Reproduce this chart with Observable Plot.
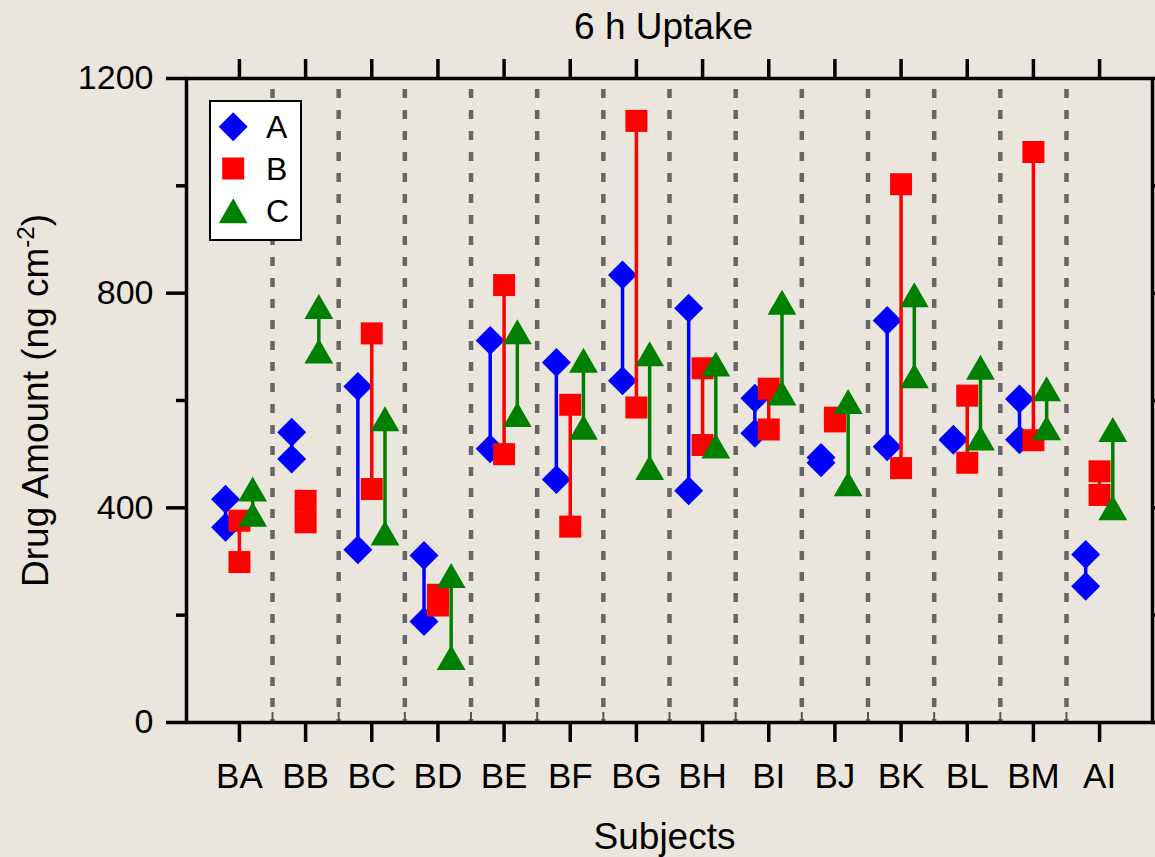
<!DOCTYPE html>
<html><head><meta charset="utf-8">
<script src="https://cdn.jsdelivr.net/npm/d3@7"></script>
<script src="https://cdn.jsdelivr.net/npm/@observablehq/plot@0.6"></script>
<style>
html,body{margin:0;padding:0;background:#ebe6dd;}
#wrap{position:relative;width:1155px;height:857px;overflow:hidden;background:#ebe6dd;}
#legend{position:absolute;left:209px;top:100px;width:93px;height:141px;box-sizing:border-box;border:2.5px solid #000;background:#fff;}
#legend svg{display:block;}
</style></head><body><div id="wrap"><div id="legend"></div></div>
<script>
const subjects = ["BA","BB","BC","BD","BE","BF","BG","BH","BI","BJ","BK","BL","BM","AI"];
const seriesNames = ["A","B","C"];
// two replicate values per subject (ng cm-2)
const seriesA = [[416,364],[541,491],[626,322],[311,188],[712,510],[671,453],[834,637],[772,432],[604,539],[494,484],[749,514],[528,526],[603,527],[313,254]];
const seriesB = [[376,299],[413,373],[725,435],[238,218],[815,500],[592,365],[1121,587],[660,517],[622,546],[568,561],[1003,474],[609,484],[1063,526],[468,424]];
const seriesC = [[435,388],[775,692],[566,353],[274,121],[728,574],[675,550],[687,475],[668,515],[783,614],[598,445],[797,646],[662,530],[622,549],[546,400]];
const yTicks = [0,400,800,1200];
const yMinorTicks = [200,600,1000];

const styles = {
  A: {color:"#0000ff", symbol:"diamond2", r:13.06, dy:0, off:-0.21},
  B: {color:"#ff0000", symbol:"square", r:12.41, dy:0, off:0},
  C: {color:"#008000", symbol:"triangle", r:10.71, dy:4.17, off:0.2}
};
const allSeries = {A: seriesA, B: seriesB, C: seriesC};

const pos = subjects.map((s,i)=>i+1);
const boundaries = pos.slice(0,-1).map(p=>p+0.5);

const seriesMarks = [];
for (const name of seriesNames) {
  const st = styles[name];
  const vals = allSeries[name];
  const ranges = vals.map((v,i)=>({x: pos[i]+st.off, lo: Math.min(...v), hi: Math.max(...v)}));
  const pts = vals.flatMap((v,i)=>v.map(val=>({x: pos[i]+st.off, y: val})));
  seriesMarks.push(
    Plot.ruleX(ranges, {x:"x", y1:"lo", y2:"hi", stroke: st.color, strokeWidth: 3.5}),
    Plot.dot(pts, {x:"x", y:"y", symbol: st.symbol, fill: st.color, r: st.r, dy: st.dy})
  );
}

const font = "'Liberation Sans', Arial, Helvetica, sans-serif";
const chart = Plot.plot({
  width: 1155, height: 857,
  marginLeft: 186, marginRight: 3, marginTop: 78, marginBottom: 135,
  style: {fontFamily: font, fontSize: "34px", color: "#000", background: "#ebe6dd", overflow: "visible"},
  x: {type: "linear", domain: [0.2, 14.8]},
  y: {domain: [0, 1200]},
  marks: [
    Plot.ruleX(boundaries, {x: d=>d, stroke:"#666666", strokeWidth: 4.5, strokeDasharray: "9,12", insetTop: 11}),
    ...seriesMarks,
    Plot.tickX(boundaries, {x: d=>d, insetTop: 634, stroke:"#555", strokeWidth: 2}),
    Plot.frame({stroke:"#000", strokeWidth: 3.5}),
    Plot.axisY({ticks: yTicks, tickSize: 20, tickPadding: 13, tickFormat: d=>String(d), label: null, strokeWidth: 3.5, fontSize: 34}),
    Plot.axisY({ticks: yMinorTicks, tickSize: 10, fill: "none", label: null, strokeWidth: 3.5}),
    Plot.axisY({anchor: "right", ticks: d3.range(0,1201,200), tickSize: 20, fill: "none", label: null, strokeWidth: 3.5}),
    Plot.axisX({ticks: pos, tickSize: 20, tickPadding: 21, tickFormat: d=>subjects[d-1], label: null, strokeWidth: 3.5, fontSize: 35}),
    Plot.axisX({anchor: "top", ticks: pos, tickSize: 20, fill: "none", label: null, strokeWidth: 3.5}),
    Plot.text(["6 h Uptake"], {frameAnchor: "top", dy: -40, dx: -6, lineAnchor: "bottom", fontSize: 37}),
    Plot.text(["Subjects"], {frameAnchor: "bottom", dy: 126, dx: -5, lineAnchor: "bottom", fontSize: 37}),
    Plot.text(["Drug Amount (ng cm-2)"], {frameAnchor: "left", rotate: -90, dx: -139, lineAnchor: "bottom", textAnchor: "middle", fontSize: 37})
  ]
});
document.getElementById("wrap").prepend(chart);

// tick label sizes
d3.select(chart).selectAll('g[aria-label="y-axis tick label"] text').attr("font-size", 34);
d3.select(chart).selectAll('g[aria-label="y-axis tick label"]').attr("font-size", 34);

// superscript in y-axis title
d3.select(chart).selectAll("text").filter(function(){return this.textContent === "Drug Amount (ng cm-2)";}).each(function(){
  const t = d3.select(this);
  t.text("");
  t.append("tspan").text("Drug Amount (ng cm");
  t.append("tspan").attr("font-size", "24px").attr("dy", "-14").text("-2");
  t.append("tspan").attr("dy", "14").text(")");
});

// legend
const lg = d3.select("#legend").append("svg").attr("width", 88).attr("height", 136);
const legendY = [24.8, 66.5, 108.8];
seriesNames.forEach((name, i) => {
  const st = styles[name];
  const symType = {diamond2: d3.symbolDiamond2, square: d3.symbolSquare, triangle: d3.symbolTriangle}[st.symbol];
  lg.append("path")
    .attr("d", d3.symbol(symType, st.r*st.r*Math.PI)())
    .attr("transform", `translate(22.2,${legendY[i] + st.dy})`)
    .attr("fill", st.color);
  lg.append("text").attr("x", 55).attr("y", legendY[i] + 11.5)
    .attr("font-family", font).attr("font-size", 32).text(name);
});
</script>
</body></html>
